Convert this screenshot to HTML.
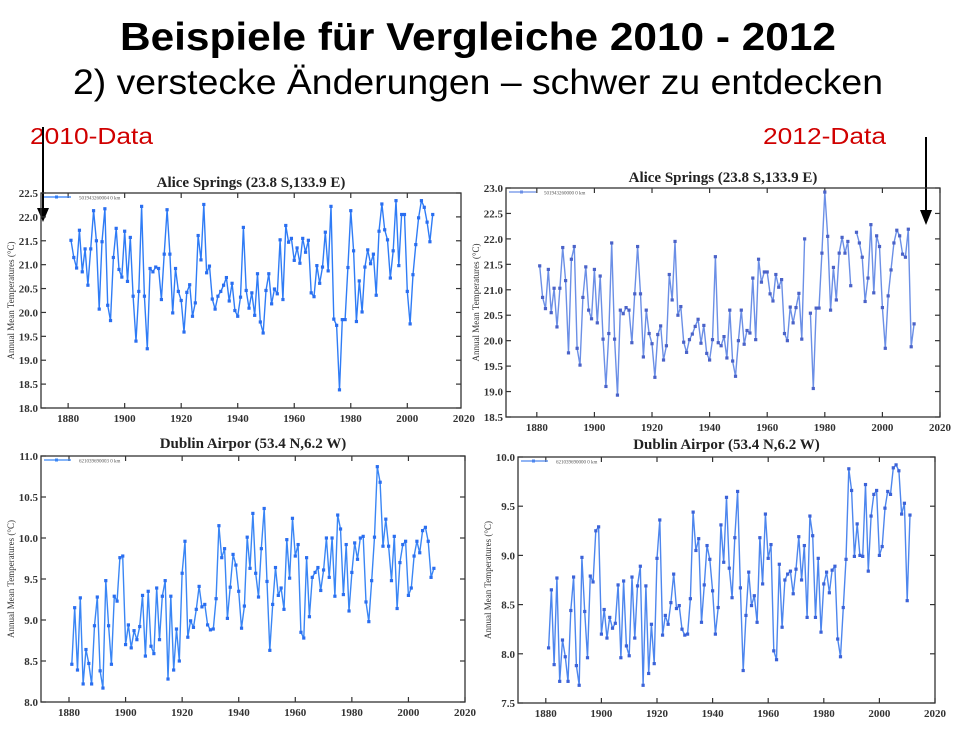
<!DOCTYPE html>
<html><head><meta charset="utf-8"><style>
html,body{margin:0;padding:0;background:#fff;}
svg{display:block;}
</style></head><body>
<svg id="root" width="965" height="736" viewBox="0 0 965 736" xmlns="http://www.w3.org/2000/svg">
<text x="120" y="50" textLength="716" lengthAdjust="spacingAndGlyphs" font-family="Liberation Sans, sans-serif" font-weight="bold" font-size="39">Beispiele für Vergleiche 2010 - 2012</text>
<text x="73" y="94" textLength="810" lengthAdjust="spacingAndGlyphs" font-family="Liberation Sans, sans-serif" font-size="35">2) verstecke Änderungen – schwer zu entdecken</text>
<text x="30" y="144" textLength="123" lengthAdjust="spacingAndGlyphs" font-family="Liberation Sans, sans-serif" font-size="23" fill="#d00000">2010-Data</text>
<text x="763" y="144" textLength="123" lengthAdjust="spacingAndGlyphs" font-family="Liberation Sans, sans-serif" font-size="23" fill="#d00000">2012-Data</text>
<g><line x1="43" y1="127" x2="43" y2="210" stroke="#000" stroke-width="2"/><polygon points="37,208 49,208 43,222" fill="#000"/></g>
<g><line x1="926" y1="137" x2="926" y2="212" stroke="#000" stroke-width="2"/><polygon points="920,210 932,210 926,225" fill="#000"/></g>
<g id="charts"></g>
</svg>
<script>
const firstYear = 1881;
const aliceYears2010Start = 1881;
const alice2010 = [21.51,21.15,20.93,21.72,20.85,21.33,20.57,21.33,22.13,21.5,20.07,21.48,22.17,20.15,19.83,21.15,21.76,20.9,20.74,21.7,20.65,21.57,20.34,19.4,20.44,22.22,20.34,19.24,20.92,20.85,20.95,20.92,20.27,21.22,22.15,21.22,19.99,20.92,20.44,20.25,19.59,20.42,20.58,19.92,20.2,21.61,21.1,22.26,20.83,20.97,20.28,20.07,20.34,20.44,20.57,20.73,20.24,20.61,20.04,19.92,20.32,21.78,20.46,20.09,20.41,19.94,20.81,19.8,19.57,20.46,20.81,20.18,20.49,20.39,21.52,20.27,21.82,21.47,21.55,21.09,21.35,21.03,21.55,21.26,21.51,20.41,20.33,20.98,20.61,20.95,21.68,20.87,22.22,19.86,19.73,18.38,19.85,19.85,20.94,22.13,21.29,19.81,20.66,20.01,20.95,21.31,21.02,21.22,20.36,21.7,22.27,21.73,21.52,20.72,21.29,22.34,20.98,22.05,22.05,20.44,19.76,20.79,21.42,21.98,22.34,22.2,21.89,21.48,22.05];
const alice2012 = [21.47,20.85,20.63,21.4,20.55,21.03,20.27,21.03,21.83,21.18,19.76,21.6,21.85,19.85,19.52,20.85,21.45,20.6,20.43,21.4,20.35,21.27,20.03,19.1,20.14,21.92,20.03,18.93,20.6,20.53,20.65,20.6,19.96,20.92,21.85,20.92,19.68,20.6,20.14,19.94,19.28,20.12,20.29,19.62,19.9,21.3,20.8,21.95,20.5,20.67,19.97,19.77,20.02,20.13,20.28,20.42,19.95,20.3,19.75,19.62,20.02,21.65,19.96,19.9,20.08,19.66,20.6,19.6,19.3,20.0,20.6,19.93,20.2,20.15,21.23,20.02,21.6,21.15,21.35,21.35,20.92,20.78,21.3,21.05,21.2,20.14,20.0,20.66,20.35,20.65,20.93,20.03,22.0,null,20.54,19.06,20.64,20.64,21.72,22.92,22.05,20.6,21.44,20.8,21.72,22.03,21.72,21.95,21.08,null,22.13,21.92,21.64,20.77,21.23,22.28,20.94,22.06,21.85,20.65,19.85,20.88,21.39,21.92,22.17,22.06,21.7,21.64,22.19,19.88,20.33];
const dublin2010 = [8.46,9.15,8.39,9.27,8.22,8.64,8.47,8.22,8.93,9.28,8.38,8.17,9.48,8.93,8.46,9.29,9.23,9.76,9.78,8.7,8.94,8.66,8.87,8.76,8.92,9.3,8.56,9.35,8.68,8.59,9.39,8.76,9.29,9.48,8.28,9.29,8.39,8.89,8.5,9.57,9.96,8.79,8.99,8.91,9.13,9.41,9.16,9.19,8.94,8.88,8.89,9.26,10.15,9.76,9.87,9.02,9.4,9.8,9.67,9.35,8.9,9.17,10.01,9.63,10.3,9.57,9.28,9.87,10.36,9.47,8.63,9.19,9.64,9.3,9.39,9.13,9.98,9.51,10.24,9.78,9.92,8.85,8.78,9.76,9.04,9.52,9.58,9.64,9.36,9.61,10.0,9.52,10.0,9.29,10.28,10.11,9.31,9.92,9.11,9.58,9.94,9.74,10.0,10.02,9.22,8.98,9.48,10.01,10.87,10.68,9.9,10.23,9.9,9.48,10.02,9.14,9.7,9.92,9.96,9.3,9.39,9.78,9.96,9.82,10.09,10.13,9.96,9.52,9.63];
const dublin2012 = [8.06,8.65,7.89,8.77,7.72,8.14,7.97,7.72,8.44,8.78,7.88,7.68,8.98,8.43,7.96,8.79,8.73,9.25,9.29,8.2,8.45,8.16,8.37,8.26,8.31,8.7,7.96,8.74,8.08,7.98,8.78,8.16,8.69,8.89,7.68,8.69,7.8,8.3,7.9,8.97,9.36,8.19,8.39,8.3,8.52,8.81,8.46,8.49,8.25,8.19,8.2,8.56,9.44,9.05,9.17,8.32,8.7,9.1,8.96,8.64,8.2,8.47,9.31,8.93,9.59,8.87,8.57,9.18,9.65,8.67,7.83,8.39,8.83,8.49,8.59,8.32,9.18,8.71,9.42,8.97,9.11,8.03,7.94,8.91,8.27,8.75,8.81,8.84,8.61,8.86,9.19,8.75,9.1,8.37,9.4,9.2,8.37,8.97,8.22,8.71,8.83,8.62,8.85,8.89,8.15,7.97,8.47,8.96,9.88,9.66,8.99,9.32,9.0,8.99,9.72,8.84,9.4,9.62,9.66,9.0,9.09,9.48,9.65,9.62,9.89,9.92,9.86,9.42,9.53,8.54,9.41];
const xTicks = [1880,1900,1920,1940,1960,1980,2000,2020];
const yTicksAlice2010 = [18.0,18.5,19.0,19.5,20.0,20.5,21.0,21.5,22.0,22.5];
const yTicksAlice2012 = [18.5,19.0,19.5,20.0,20.5,21.0,21.5,22.0,22.5,23.0];
const yTicksDublin2010 = [8.0,8.5,9.0,9.5,10.0,10.5,11.0];
const yTicksDublin2012 = [7.5,8.0,8.5,9.0,9.5,10.0];

const NS = 'http://www.w3.org/2000/svg';
const root = document.getElementById('charts');
function mk(tag, attrs, parent){const e=document.createElementNS(NS,tag);for(const k in attrs)e.setAttribute(k,attrs[k]);(parent||root).appendChild(e);return e;}

function drawChart(cfg){
  const g = mk('g',{});
  
  
  const {L,T,R,B,x0,x1,y0,y1,color} = cfg;
  const sx = v => L + (v - x0)/(x1 - x0)*(R - L);
  const sy = v => B - (v - y0)/(y1 - y0)*(B - T);
  const t = mk('text',{x:(L+R)/2, y:cfg.titleY, 'text-anchor':'middle','font-family':'Liberation Serif, serif','font-weight':'bold','font-size':15, fill:'#222'},g);
  t.textContent = cfg.title;
  
  
  const frame = mk('rect',{x:L,y:T,width:R-L,height:B-T,fill:'none',stroke:'#333','stroke-width':1.3},g);
  
  
  xTicks.forEach(v=>{
    const x = sx(v);
    if (x > R+1) { } else {
      mk('line',{x1:x,y1:B,x2:x,y2:B-5,stroke:'#333','stroke-width':1.2},g);
      mk('line',{x1:x,y1:T,x2:x,y2:T+5,stroke:'#333','stroke-width':1.2},g);
    }
    const lab = mk('text',{x:x,y:B+14,'text-anchor':'middle','font-family':'Liberation Serif, serif','font-size':11,'font-weight':'bold',fill:'#333'},g);
    lab.textContent = v;
    
    
  });
  cfg.yTicks.forEach(v=>{
    const y = sy(v);
    mk('line',{x1:L,y1:y,x2:L+5,y2:y,stroke:'#333','stroke-width':1.2},g);
    mk('line',{x1:R,y1:y,x2:R-5,y2:y,stroke:'#333','stroke-width':1.2},g);
    const lab = mk('text',{x:L-3,y:y+4,'text-anchor':'end','font-family':'Liberation Serif, serif','font-size':11,'font-weight':'bold',fill:'#333'},g);
    lab.textContent = v.toFixed(1);
    
    
  });
  const yl = mk('text',{x:0,y:0,transform:`translate(${L-27},${(T+B)/2}) rotate(-90)`,'text-anchor':'middle','font-family':'Liberation Serif, serif','font-size':9,fill:'#333'},g);
  yl.textContent = 'Annual Mean Temperatures (°C)';
  
  
  // legend
  const lg = mk('g',{},g);
  
  
  mk('line',{x1:L+3,y1:T+4,x2:L+30,y2:T+4,stroke:color,'stroke-width':1.2},lg);
  mk('rect',{x:L+14,y:T+2.5,width:3,height:3,fill:color},lg);
  const lt = mk('text',{x:L+38,y:T+6.5,'font-family':'Liberation Serif, serif','font-size':5,fill:'#555'},lg);
  lt.textContent = cfg.legend;
  // series
  let d = '', pen = false;
  cfg.data.forEach((v,i)=>{
    if (v === null) { pen = false; return; }
    const x = sx(firstYear + i), y = sy(v);
    d += (pen ? 'L' : 'M') + x.toFixed(1) + ',' + y.toFixed(1);
    pen = true;
  });
  const p = mk('path',{d:d,fill:'none',stroke:color,'stroke-width':1.4,'stroke-linejoin':'round'},g);
  
  
  cfg.data.forEach((v,i)=>{
    if (v === null) return;
    const m = mk('rect',{x:sx(firstYear+i)-1.6,y:sy(v)-1.6,width:3.2,height:3.2,fill:cfg.marker},g);
    
    
  });
}

drawChart({name:'chart-alice-springs-2010',title:'Alice Springs (23.8 S,133.9 E)',titleY:187,L:41,T:193,R:461,B:408,x0:1870.4,x1:2019,y0:18.0,y1:22.5,yTicks:yTicksAlice2010,data:alice2010,color:'#2f7cf6',marker:'#2a6ef0',legend:'501943260004 0 km'});
drawChart({name:'chart-alice-springs-2012',title:'Alice Springs (23.8 S,133.9 E)',titleY:182,L:506,T:188,R:940,B:417,x0:1869.3,x1:2020,y0:18.5,y1:23.0,yTicks:yTicksAlice2012,data:alice2012,color:'#6b8fe6',marker:'#4a62c8',legend:'501943260000 0 km'});
drawChart({name:'chart-dublin-2010',title:'Dublin Airpor (53.4 N,6.2 W)',titleY:448,L:41,T:456,R:465,B:702,x0:1870.1,x1:2020,y0:8.0,y1:11.0,yTicks:yTicksDublin2010,data:dublin2010,color:'#3a86f5',marker:'#2a6ef0',legend:'621039690003 0 km'});
drawChart({name:'chart-dublin-2012',title:'Dublin Airpor (53.4 N,6.2 W)',titleY:449,L:518,T:457,R:935,B:703,x0:1870,x1:2020,y0:7.5,y1:10.0,yTicks:yTicksDublin2012,data:dublin2012,color:'#4d86ee',marker:'#3b62d8',legend:'621039690000 0 km'});
</script>
</body></html>
